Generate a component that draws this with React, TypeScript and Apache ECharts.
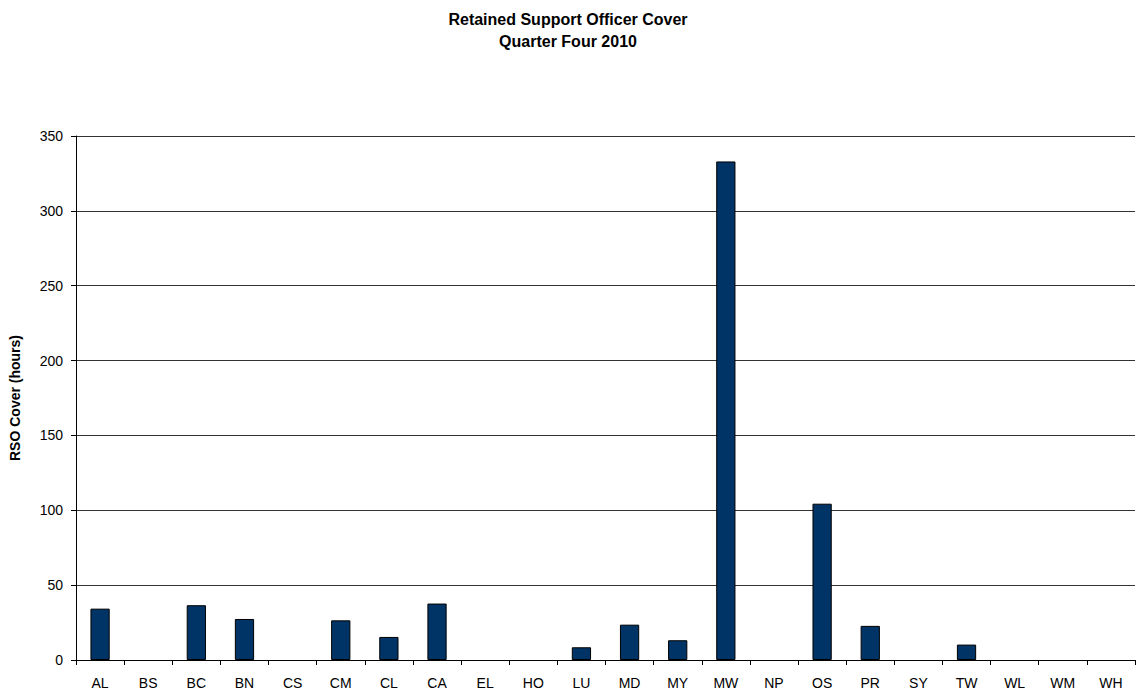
import React, { useEffect, useRef } from "react";
import * as echarts from "echarts";

const categories = ["AL","BS","BC","BN","CS","CM","CL","CA","EL","HO","LU","MD","MY","MW","NP","OS","PR","SY","TW","WL","WM","WH"];
const rsoHours = [34.3, 0, 36.6, 27.4, 0, 26.5, 15.4, 37.7, 0, 0, 8.5, 23.6, 13.2, 333, 0, 104.4, 22.8, 0, 10.3, 0, 0, 0];
const titleLines = ["Retained Support Officer Cover", "Quarter Four 2010"];
const yAxisName = "RSO Cover (hours)";

export default function App() {
  const ref = useRef<HTMLDivElement>(null);
  useEffect(() => {
    const chart = echarts.init(ref.current!, null, { renderer: "svg" });
    const font = "Liberation Sans, Arial, sans-serif";
    chart.setOption({
      animation: false,
      backgroundColor: "#ffffff",
      title: {
        text: titleLines.join("\n"),
        left: "center",
        top: 3,
        textStyle: { fontFamily: font, fontSize: 16, fontWeight: "bold", color: "#000", lineHeight: 22 },
      },
      grid: { left: 74, right: 1, top: 136, bottom: 34, containLabel: false },
      xAxis: {
        type: "category",
        data: categories,
        boundaryGap: true,
        axisLine: { lineStyle: { color: "#000", width: 1 } },
        axisTick: { show: true, alignWithLabel: false, length: 5, lineStyle: { color: "#000" } },
        axisLabel: { fontFamily: font, fontSize: 14, color: "#000", margin: 16, interval: 0 },
      },
      yAxis: {
        type: "value",
        min: 0,
        max: 350,
        interval: 50,
        name: yAxisName,
        nameLocation: "middle",
        nameGap: 54,
        nameRotate: 90,
        nameTextStyle: { fontFamily: font, fontSize: 14, fontWeight: "bold", color: "#000" },
        axisLine: { show: true, lineStyle: { color: "#000", width: 1 } },
        axisTick: { show: true, length: 5, lineStyle: { color: "#000" } },
        axisLabel: { fontFamily: font, fontSize: 14, color: "#000", margin: 13 },
        splitLine: { show: true, lineStyle: { color: "#333", width: 1 } },
      },
      series: [
        {
          type: "bar",
          data: rsoHours.map((v) => (v === 0 ? { value: v, itemStyle: { opacity: 0 } } : v)),
          barWidth: "40%",
          itemStyle: { color: "#003366", borderColor: "#000", borderWidth: 1 },
        },
      ],
    });
    return () => chart.dispose();
  }, []);
  return (
    <div
      ref={ref}
      style={{ position: "fixed", left: 0, top: 0, width: 1136, height: 694, background: "#fff" }}
    />
  );
}
